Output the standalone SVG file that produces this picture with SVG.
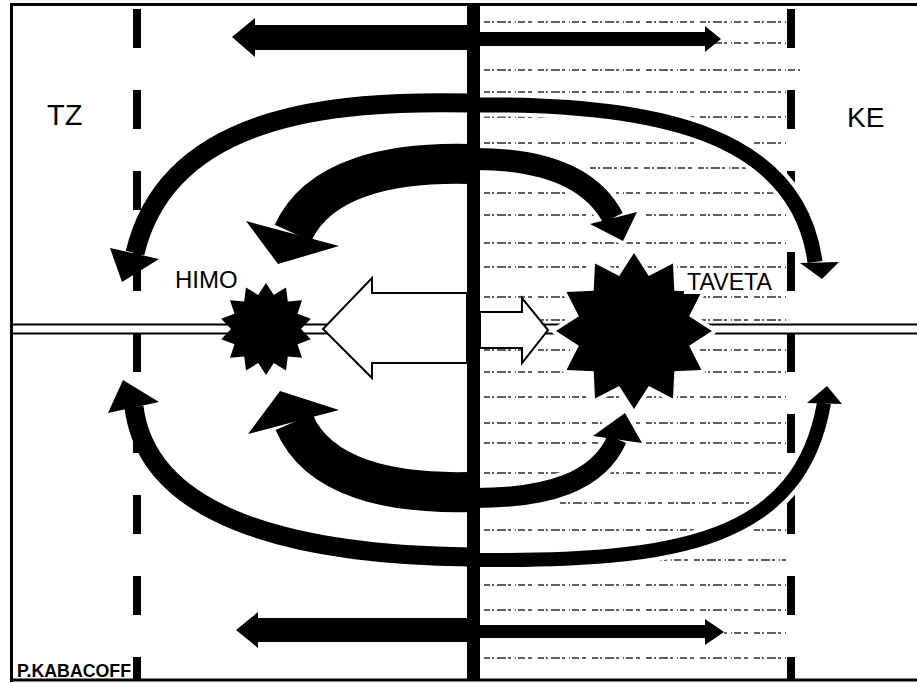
<svg xmlns="http://www.w3.org/2000/svg" width="917" height="683" viewBox="0 0 917 683">
<style>
.lbl{font-family:"Liberation Sans",Arial,sans-serif;fill:#000}
.tex{stroke:#3a3a3a;stroke-width:1.8;fill:none;opacity:0.8}
.dash{stroke:#000;stroke-width:8;stroke-dasharray:39 42;fill:none}
.arc{fill:none;stroke:#000;stroke-linecap:butt}
.halo{fill:none;stroke:#fff;stroke-linecap:butt}
.head{fill:#000}
.hhalo{fill:#fff;stroke:#fff;stroke-width:8;stroke-linejoin:round}
.warrow{fill:#fff;stroke:#000;stroke-width:2}
</style>
<rect x="0" y="0" width="917" height="683" fill="#fff"/>

<!-- textured printed-text background on right half -->
<g id="texture">
<g class="tex" stroke-dasharray="6 2 2 3 9 2 3 4 1 2 7 3 4 6">
<line x1="484" y1="22" x2="786" y2="22"/>
<line x1="484" y1="43" x2="786" y2="43"/>
<line x1="484" y1="70" x2="800" y2="70"/>
<line x1="484" y1="92" x2="786" y2="92"/>
<line x1="484" y1="117" x2="786" y2="117"/>
<line x1="484" y1="143" x2="786" y2="143"/>
<line x1="590" y1="168" x2="750" y2="168"/>
<line x1="484" y1="193" x2="786" y2="193"/>
<line x1="484" y1="215" x2="786" y2="215"/>
<line x1="484" y1="243" x2="786" y2="243"/>
<line x1="484" y1="267" x2="786" y2="267"/>
<line x1="484" y1="297" x2="786" y2="297"/>
<line x1="484" y1="320" x2="786" y2="320"/>
<line x1="484" y1="350" x2="786" y2="350"/>
<line x1="484" y1="372" x2="786" y2="372"/>
<line x1="484" y1="397" x2="786" y2="397"/>
<line x1="484" y1="423" x2="786" y2="423"/>
<line x1="484" y1="443" x2="786" y2="443"/>
<line x1="484" y1="473" x2="786" y2="473"/>
<line x1="560" y1="503" x2="786" y2="503"/>
<line x1="484" y1="530" x2="786" y2="530"/>
<line x1="640" y1="560" x2="786" y2="560"/>
<line x1="484" y1="585" x2="786" y2="585"/>
<line x1="484" y1="610" x2="786" y2="610"/>
<line x1="700" y1="633" x2="786" y2="633"/>
<line x1="484" y1="658" x2="786" y2="658"/>
</g>
</g>

<!-- dashed boundary lines -->
<g id="boundaries">
<line class="dash" x1="137" y1="9" x2="137" y2="680"/>
<line class="dash" x1="791" y1="9" x2="791" y2="680"/>
</g>

<!-- horizontal band -->
<g id="band">
<rect x="12" y="324" width="905" height="10" fill="#fff"/>
<line x1="12" y1="324.5" x2="917" y2="324.5" stroke="#000" stroke-width="2"/>
<line x1="12" y1="333.5" x2="917" y2="333.5" stroke="#000" stroke-width="2"/>
</g>

<!-- center line -->
<g id="center-line">
<rect x="467" y="4" width="13" height="677" fill="#000"/>
</g>

<!-- white block arrows -->
<g id="white-arrows">
<polygon class="warrow" points="467,293 372,293 372,278 323,329 372,378 372,363 467,363"/>
<polygon class="warrow" points="480,312 522,312 522,298 548,330 522,363 522,348 480,348"/>
</g>

<!-- stars -->
<g id="himo-star" transform="translate(266,329)">
<polygon fill="#000" points="0,-46 7.8,-34.1 20,-41.4 21.8,-27.4 36,-28.7 31.5,-15.2 44.8,-10.2 35,0 44.8,10.2 31.5,15.2 36,28.7 21.8,27.4 20,41.4 7.8,34.1 0,46 -7.8,34.1 -20,41.4 -21.8,27.4 -36,28.7 -31.5,15.2 -44.8,10.2 -35,0 -44.8,-10.2 -31.5,-15.2 -36,-28.7 -21.8,-27.4 -20,-41.4 -7.8,-34.1"/>
</g>
<g id="taveta-star" transform="translate(634,331)">
<polygon fill="#000" stroke="#fff" stroke-width="8" stroke-linejoin="round" paint-order="stroke" points="0,-78 14.8,-55.1 39,-67.5 40.3,-40.3 67.5,-39 55.1,-14.8 78,0 55.1,14.8 67.5,39 40.3,40.3 39,67.5 14.8,55.1 0,78 -14.8,55.1 -39,67.5 -40.3,40.3 -67.5,39 -55.1,14.8 -78,0 -55.1,-14.8 -67.5,-39 -40.3,-40.3 -39,-67.5 -14.8,-55.1"/>
</g>

<!-- connectors: curved and straight arrows -->
<g id="connectors">
<!-- halos on textured side -->
<path class="halo" stroke-width="23" d="M482,105 C660,103 798,135 815,262"/>
<path class="halo" stroke-width="30" d="M482,159 C545,159 592,178 613,218"/>
<path class="halo" stroke-width="28" d="M482,498 C548,498 598,482 617,439"/>
<path class="halo" stroke-width="22" d="M482,560 C680,562 800,540 824,403"/>
<polygon class="hhalo" points="800,263 839,262 822,279"/>
<polygon class="hhalo" points="590,224 637,212 623,241"/>
<polygon class="hhalo" points="593,436 642,443 625,413"/>
<polygon class="hhalo" points="807,403 842,404 827,386"/>

<!-- upper outer -->
<path class="arc" stroke-width="19" d="M470,103 C330,100 168,115 135,253"/>
<polygon class="head" points="110,248 159,259 122,282"/>
<path class="arc" stroke-width="15" d="M475,105 C660,103 798,135 815,262"/>
<polygon class="head" points="800,263 839,262 822,279"/>
<!-- upper inner -->
<path class="arc" stroke-width="40" d="M470,164 C390,162 318,178 293,233"/>
<polygon class="head" points="246,221 339,246 278,264"/>
<path class="arc" stroke-width="22" d="M475,159 C545,159 592,178 613,218"/>
<polygon class="head" points="590,224 637,212 623,241"/>
<!-- lower inner -->
<path class="arc" stroke-width="40" d="M470,492 C390,494 318,478 294,422"/>
<polygon class="head" points="248,434 339,410 280,391"/>
<path class="arc" stroke-width="20" d="M475,498 C548,498 598,482 617,439"/>
<polygon class="head" points="593,436 642,443 625,413"/>
<!-- lower outer -->
<path class="arc" stroke-width="19" d="M470,557 C300,555 148,520 134,407"/>
<polygon class="head" points="108,413 159,402 123,380"/>
<path class="arc" stroke-width="14" d="M475,560 C680,562 800,540 824,403"/>
<polygon class="head" points="807,403 842,404 827,386"/>

<!-- straight arrows -->
<polygon class="head" points="468,25 255,25 255,18 232,37 255,57 255,50 468,50"/>
<polygon class="head" points="479,32 705,32 705,26 721,39 705,52 705,46 479,46"/>
<polygon class="head" points="468,618 258,618 258,612 236,630 258,648 258,642 468,642"/>
<polygon class="head" points="479,625 705,625 705,619 724,632 705,645 705,638 479,638"/>
</g>

<!-- labels -->
<g id="label-tz"><text class="lbl" x="47" y="125" font-size="29">TZ</text></g>
<g id="label-ke"><text class="lbl" x="847" y="127" font-size="28">KE</text></g>
<g id="label-himo"><text class="lbl" x="175" y="288" font-size="24">HIMO</text></g>
<g id="label-taveta">
<rect x="684" y="268" width="92" height="26" fill="#fff"/>
<text class="lbl" x="687" y="290" font-size="23" textLength="85" lengthAdjust="spacingAndGlyphs">TAVETA</text>
</g>
<g id="label-credit"><text class="lbl" x="17" y="677" font-size="19" font-weight="bold" textLength="114" lengthAdjust="spacingAndGlyphs">P.KABACOFF</text></g>

<!-- frame -->
<g id="frame">
<line x1="10" y1="4.5" x2="917" y2="4.5" stroke="#000" stroke-width="3"/>
<line x1="11.5" y1="3" x2="11.5" y2="682" stroke="#000" stroke-width="3"/>
<line x1="10" y1="680" x2="917" y2="680" stroke="#000" stroke-width="3"/>
</g>
</svg>
